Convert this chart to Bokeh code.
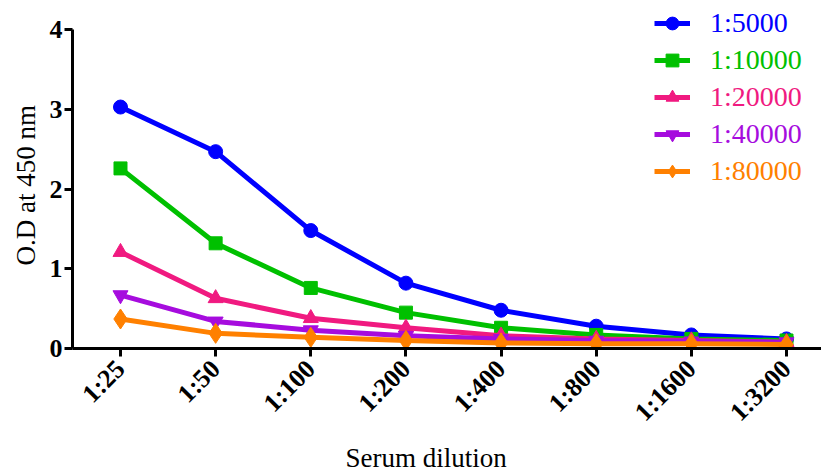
import math

from bokeh.embed import file_html
from bokeh.models import FixedTicker, Legend, LegendItem, Range1d, Title
from bokeh.plotting import figure
from bokeh.resources import INLINE

# Serum dilutions along the x axis
dilutions = ["1:25", "1:50", "1:100", "1:200", "1:400", "1:800", "1:1600", "1:3200"]

# Antigen coating dilutions (one curve each)
series_labels = ["1:5000", "1:10000", "1:20000", "1:40000", "1:80000"]

# O.D at 450 nm for each serum dilution
od_5000 = [3.03, 2.47, 1.48, 0.82, 0.48, 0.28, 0.17, 0.12]
od_10000 = [2.26, 1.32, 0.76, 0.45, 0.26, 0.17, 0.12, 0.10]
od_20000 = [1.21, 0.63, 0.38, 0.26, 0.16, 0.12, 0.10, 0.08]
od_40000 = [0.67, 0.34, 0.23, 0.16, 0.12, 0.10, 0.09, 0.08]
od_80000 = [0.37, 0.19, 0.14, 0.10, 0.07, 0.06, 0.06, 0.05]

y_ticks = [0, 1, 2, 3, 4]

series_values = [od_5000, od_10000, od_20000, od_40000, od_80000]
colors = ["#0000FF", "#00C000", "#F01A80", "#A60CDE", "#FF8000"]
markers = ["circle", "square", "triangle", "inverted_triangle", "diamond"]
marker_sizes = [14, 13, 15, 15, 20]

FONT = "Liberation Serif"

xs = list(range(len(dilutions)))

p = figure(
    width=821,
    height=472,
    output_backend="svg",
    toolbar_location=None,
    x_range=Range1d(-0.5045, 7.368),
    y_range=Range1d(0, 4.367),
    min_border_left=72,
    min_border_right=0,
    min_border_top=0,
    min_border_bottom=124,
)
p.outline_line_color = None
p.xgrid.visible = False
p.ygrid.visible = False
p.background_fill_color = "white"
p.border_fill_color = "white"

renderers = []
for vals, color, marker, msize in zip(series_values, colors, markers, marker_sizes):
    ln = p.line(xs, vals, line_color=color, line_width=5)
    sc = p.scatter(xs, vals, marker=marker, size=msize, fill_color=color, line_color=color)
    renderers.append((ln, sc))

# Axes
for ax in (p.xaxis[0], p.yaxis[0]):
    ax.axis_line_width = 3
    ax.axis_line_color = "black"
    ax.major_tick_line_width = 3
    ax.major_tick_line_color = "black"
    ax.major_tick_out = 8
    ax.major_tick_in = 0
    ax.minor_tick_line_color = None
    ax.major_label_text_font = FONT
    ax.major_label_text_font_style = "bold"
    ax.major_label_text_font_size = "26px"
    ax.major_label_text_color = "black"

p.xaxis.ticker = FixedTicker(ticks=xs)
p.xaxis.major_label_overrides = {i: lab for i, lab in zip(xs, dilutions)}
p.xaxis.major_label_orientation = math.pi / 4
p.xaxis.major_label_standoff = 8

p.yaxis.ticker = FixedTicker(ticks=y_ticks)
p.yaxis.bounds = (0, 4)
p.yaxis.major_label_standoff = 2

# Axis titles as side titles so they can be offset along the axis
x_title = Title(
    text="Serum dilution",
    align="left", offset=273, standoff=0,
    text_font=FONT, text_font_style="normal", text_font_size="27px",
    text_color="black",
)
y_title = Title(
    text="O.D at 450 nm",
    align="left", offset=83, standoff=12,
    text_font=FONT, text_font_style="normal", text_font_size="27px",
    text_color="black",
)
p.add_layout(x_title, "below")
p.add_layout(y_title, "left")

# One legend per series so each label takes its series colour
for i, (label, color, (ln, sc)) in enumerate(zip(series_labels, colors, renderers)):
    leg = Legend(
        items=[LegendItem(label=label, renderers=[ln, sc])],
        location=(582, 309 - 37 * i),
        padding=0,
        margin=0,
        spacing=0,
        glyph_width=36,
        glyph_height=32,
        label_standoff=20,
        label_height=32,
        label_text_font=FONT,
        label_text_font_size="28px",
        label_text_color=color,
        border_line_color=None,
        background_fill_alpha=0,
    )
    p.add_layout(leg, "center")

open("out.html", "w").write(file_html(p, INLINE))
